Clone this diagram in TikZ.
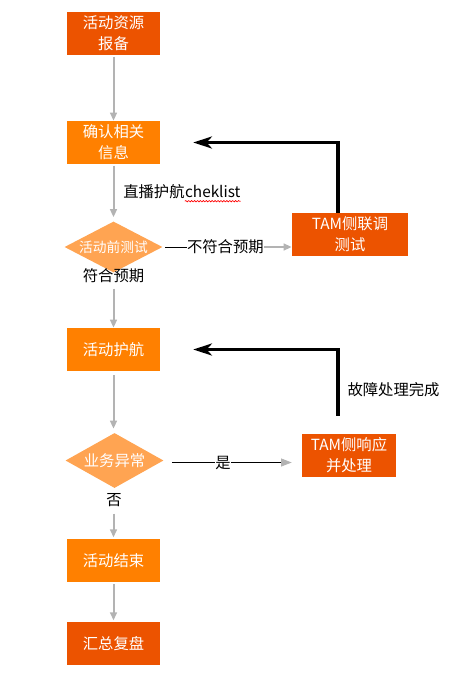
\documentclass[tikz,border=0pt]{standalone}
\usepackage{fontspec}
\setmainfont{Noto Sans CJK SC}
\usetikzlibrary{shapes.geometric,arrows.meta,decorations.pathmorphing}
\definecolor{darkor}{HTML}{EC5300}
\definecolor{lightor}{HTML}{FF8000}
\definecolor{diaor}{HTML}{FFA452}
\definecolor{lgray}{HTML}{B3B3B3}
\begin{document}
\begin{tikzpicture}[x=0.75pt,y=-0.75pt,
  box/.style={rectangle,inner sep=0pt,minimum width=69.75pt,minimum height=32.25pt,text=white,align=center,font=\fontsize{11.5}{15.75}\selectfont},
  darkbox/.style={box,fill=darkor},
  lightbox/.style={box,fill=lightor},
  dia/.style={diamond,fill=diaor,inner sep=0pt,minimum width=73.5pt},
  diatext/.style={text=white,inner sep=0pt},
  lbl/.style={font=\fontsize{11.5}{14}\selectfont,inner sep=0pt},
  garrow/.style={draw=lgray,line width=1.5pt,-{Triangle[length=6pt,width=5pt]}},
  barrow/.style={draw=black,line width=2.4pt,-{Stealth[length=14pt,width=9pt,inset=4pt]}}
]
\useasboundingbox (0,0) rectangle (475,693);

\node[darkbox] (b1) at (113.5,33.5) {活动资源\\报备};
\node[lightbox] (b2) at (113.5,142.5) {确认相关\\信息};
\node[dia,minimum height=38.25pt] (d1) at (113.5,247) {};
\node[diatext,font=\fontsize{10.3}{12}\selectfont] (d1t) at (d1.center) {活动前测试};
\node[darkbox,minimum width=87pt] (t1) at (350,234.5) {TAM侧联调\\测试};
\node[lbl] (l1) at (113.5,276) {符合预期};
\node[lightbox] (b3) at (113.5,349.5) {活动护航};
\node[dia,minimum height=41.25pt] (d2) at (114.5,460.5) {};
\node[diatext,font=\fontsize{11.5}{14}\selectfont] (d2t) at (d2.center) {业务异常};
\node[darkbox,minimum width=70.5pt] (t2) at (349,455.5) {TAM侧响应\\并处理};
\node[lbl] (l2) at (114,500) {否};
\node[lightbox] (b4) at (113.5,560.5) {活动结束};
\node[darkbox] (b5) at (113.5,643.5) {汇总复盘};

% labels
\node[lbl,anchor=west] (c1) at (123,192) {直播护航};
\node[lbl,anchor=base west] (c2) at (c1.base east) {cheklist};
\draw[red,line width=0.5pt,decorate,decoration={snake,amplitude=0.5pt,segment length=2.2pt}]
  ([yshift=-2.5pt]c2.base west) -- ([yshift=-2.5pt]c2.base east);
\node[lbl] (c3) at (393.5,390) {故障处理完成};

% connectors
\draw[garrow,shorten <=1pt] (b1.south) -- (b2.north);
\draw[garrow,shorten <=1pt,shorten >=3pt] (b2.south) -- (d1.north);
\draw[garrow,shorten <=3pt] (d1.east) -- (d1.east -| t1.west)
  node[pos=0.40,lbl,fill=white] {\rule[0.32em]{16.5pt}{0.5pt}不符合预期};
\draw[garrow,shorten <=4pt] (l1.south) -- (b3.north);
\draw[garrow,shorten <=3pt,shorten >=3pt] (b3.south) -- (b3.south |- d2.north);
\draw[black,line width=0.6pt,shorten <=6pt,shorten >=7.5pt,-{Triangle[length=8pt,width=6pt,color=lgray]}]
  ([yshift=-1.5pt]d2.east) -- ([yshift=-1.5pt]d2.east -| t2.west) node[pos=0.43,lbl,fill=white] {是};
\draw[garrow,shorten <=5pt,shorten >=1pt] (l2.south -| b4.north) -- (b4.north);
\draw[garrow,shorten <=1.5pt,shorten >=1pt] (b4.south) -- (b5.north);

\draw[barrow,shorten >=24.75pt] ([xshift=-9pt]t1.north) |- (b2.east);
\draw[barrow,shorten <=13.5pt,shorten >=24.75pt] ([xshift=-8.25pt]t2.north) |- (b3.east);
\end{tikzpicture}
\end{document}
